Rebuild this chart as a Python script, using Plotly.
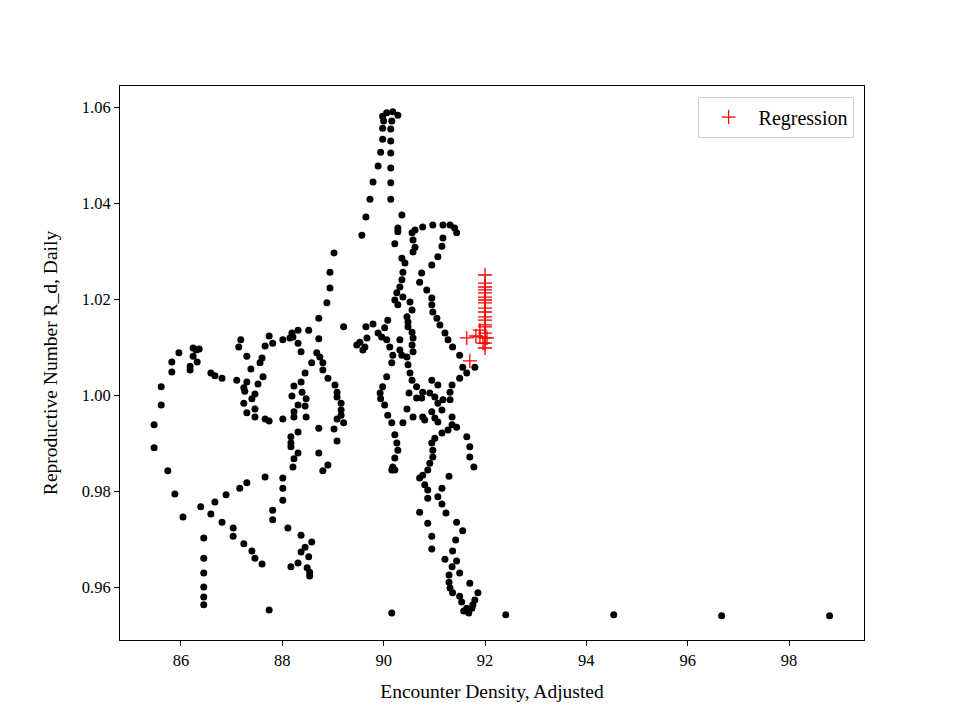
import plotly.graph_objects as go

# ---- observed points (Encounter Density, R_d) ----
left_x = [86.45, 86.45, 86.45, 86.45, 86.45, 86.45, 86.04, 85.88, 85.74, 85.47, 85.47, 85.61, 85.61,
          85.82, 85.82, 85.96, 86.24, 86.30, 86.36, 86.24, 86.18, 86.18, 86.32, 86.59, 86.67, 86.81,
          87.10, 87.30, 87.24, 87.26, 87.38, 87.52, 87.46, 87.40, 87.24, 87.30, 87.46, 87.46, 87.18,
          87.14, 87.30, 87.16, 87.30, 86.39, 86.59, 86.67, 86.89, 86.81, 87.03, 87.03, 87.24, 87.40,
          87.46]
left_y = [0.9702, 0.9660, 0.9629, 0.9600, 0.9579, 0.9563, 0.9746, 0.9794, 0.9842, 0.9890, 0.9938, 0.9979, 1.0017,
          1.0048, 1.0069, 1.0088, 1.0098, 1.0094, 1.0096, 1.0081, 1.0060, 1.0052, 1.0069, 1.0046, 1.0040, 1.0035,
          1.0031, 1.0027, 1.0015, 1.0008, 1.0054, 1.0023, 1.0002, 0.9992, 0.9983, 0.9963, 0.9971, 0.9954, 1.0115,
          1.0100, 1.0081, 0.9806, 0.9817, 0.9767, 0.9752, 0.9777, 0.9792, 0.9735, 0.9723, 0.9706, 0.9690, 0.9675,
          0.9660]

mid_x = [89.57, 89.02, 88.94, 88.94, 88.88, 88.72, 88.52, 88.31, 88.19, 88.01, 87.81, 87.66, 87.74, 88.15,
         88.21, 88.31, 88.72, 88.37, 88.68, 88.74, 89.21, 89.65, 89.79, 89.89, 89.47, 89.53, 89.63, 89.67,
         89.59, 87.60, 87.56, 87.62, 88.58, 88.80, 88.80, 88.45, 88.37, 88.23, 88.39, 88.19, 88.47, 88.31,
         88.45, 88.23, 88.23, 88.47, 87.66, 87.74, 88.01, 88.90, 89.04, 89.08, 89.08, 89.16, 89.16, 89.16,
         89.08, 89.21, 88.72, 89.02, 89.08, 88.31, 88.17, 88.17, 88.17, 88.31, 88.72, 88.23, 88.21, 88.90,
         88.80, 87.66, 88.01, 88.01, 88.01, 87.81, 87.81, 88.11, 88.37, 88.58, 88.45, 88.37, 88.52, 88.31,
         88.17, 88.49, 88.54, 88.54, 87.74, 87.60]
mid_y = [1.0333, 1.0296, 1.0256, 1.0223, 1.0192, 1.0160, 1.0135, 1.0135, 1.0129, 1.0115, 1.0108, 1.0102, 1.0123, 1.0119,
         1.0121, 1.0108, 1.0117, 1.0090, 1.0088, 1.0079, 1.0142, 1.0142, 1.0148, 1.0129, 1.0104, 1.0110, 1.0100, 1.0119,
         1.0094, 1.0077, 1.0067, 1.0038, 1.0067, 1.0067, 1.0052, 1.0046, 1.0027, 1.0019, 1.0006, 0.9998, 0.9992, 0.9979,
         0.9977, 0.9965, 0.9954, 0.9954, 0.9950, 0.9946, 0.9950, 1.0035, 1.0021, 1.0006, 0.9996, 0.9983, 0.9969, 0.9958,
         0.9950, 0.9942, 0.9931, 0.9929, 0.9904, 0.9923, 0.9913, 0.9900, 0.9892, 0.9879, 0.9879, 0.9867, 0.9850, 0.9854,
         0.9842, 0.9829, 0.9827, 0.9806, 0.9781, 0.9760, 0.9740, 0.9723, 0.9708, 0.9694, 0.9683, 0.9673, 0.9663, 0.9650,
         0.9642, 0.9640, 0.9631, 0.9623, 0.9552, 0.9648]

peak_x = [90.06, 90.18, 90.28, 89.98, 90.16, 90.00, 89.98, 90.14, 89.98, 90.14, 89.94, 90.14, 89.89, 90.14,
          89.79, 90.14, 89.73, 90.14, 89.65, 90.36, 90.28, 90.62, 90.77, 90.97, 91.17, 91.31, 91.40, 90.28,
          90.22, 90.56, 90.58, 90.62, 90.58, 91.17, 91.44, 91.15, 91.07, 90.95, 90.75, 90.71, 90.85, 90.95,
          90.95, 90.97, 91.05, 91.11, 91.21, 91.27, 91.36, 91.50, 90.36, 90.42, 90.38, 90.36, 90.32, 90.26,
          90.22, 90.28, 90.38, 90.52, 90.56, 90.46, 90.48, 90.48, 90.56, 90.58, 90.56, 90.58, 90.46, 90.08,
          90.02, 89.96, 90.06, 90.12, 90.18, 90.32, 90.32, 90.36]
peak_y = [1.0588, 1.0590, 1.0583, 1.0581, 1.0571, 1.0571, 1.0556, 1.0554, 1.0533, 1.0529, 1.0506, 1.0504, 1.0477, 1.0473,
          1.0444, 1.0442, 1.0408, 1.0408, 1.0371, 1.0375, 1.0348, 1.0344, 1.0350, 1.0354, 1.0354, 1.0354, 1.0348, 1.0340,
          1.0315, 1.0338, 1.0323, 1.0308, 1.0298, 1.0327, 1.0338, 1.0310, 1.0288, 1.0271, 1.0254, 1.0235, 1.0219, 1.0202,
          1.0188, 1.0173, 1.0160, 1.0146, 1.0129, 1.0115, 1.0100, 1.0083, 1.0285, 1.0275, 1.0256, 1.0240, 1.0225, 1.0213,
          1.0198, 1.0188, 1.0204, 1.0194, 1.0177, 1.0163, 1.0152, 1.0142, 1.0131, 1.0119, 1.0104, 1.0090, 1.0079, 1.0156,
          1.0140, 1.0121, 1.0115, 1.0100, 1.0083, 1.0115, 1.0094, 1.0083]

low_x = [90.16, 90.06, 89.98, 89.93, 89.94, 90.02, 90.08, 90.16, 90.22, 90.26, 90.28, 90.22, 90.18, 90.16,
         90.22, 90.48, 90.52, 90.56, 90.65, 90.77, 90.91, 91.01, 91.07, 91.15, 91.17, 90.50, 90.65, 90.75,
         90.95, 91.07, 91.35, 91.31, 91.31, 90.46, 90.58, 90.38, 90.77, 90.81, 90.95, 91.01, 91.07, 91.35,
         91.35, 91.44, 91.27, 91.15, 91.01, 90.95, 90.97, 90.97, 90.91, 90.87, 90.77, 90.71, 90.81, 91.15,
         91.29, 91.64, 91.70, 91.70, 91.78, 91.50, 91.64, 91.80, 91.56, 90.87, 90.87, 91.07, 91.15, 91.23,
         90.71, 90.87, 91.44, 91.56, 90.95, 91.42, 90.95, 91.36, 91.21, 91.44, 91.35, 91.50, 91.29, 91.29,
         91.70, 91.31, 91.36, 91.50, 91.86, 91.80, 91.54, 91.64, 91.74, 91.76, 91.58, 91.68]
low_y = [1.0067, 1.0038, 1.0017, 1.0004, 0.9992, 0.9979, 0.9958, 0.9942, 0.9917, 0.9900, 0.9885, 0.9869, 0.9850, 0.9844,
         0.9844, 1.0063, 1.0046, 1.0031, 1.0017, 1.0006, 1.0004, 0.9996, 0.9983, 0.9969, 0.9990, 1.0004, 0.9994, 0.9994,
         1.0031, 1.0021, 1.0021, 1.0006, 0.9990, 0.9971, 0.9954, 0.9942, 0.9954, 0.9948, 0.9965, 0.9952, 0.9944, 0.9954,
         0.9938, 0.9933, 0.9927, 0.9921, 0.9910, 0.9900, 0.9885, 0.9871, 0.9858, 0.9844, 0.9833, 0.9827, 0.9813, 0.9806,
         0.9831, 0.9913, 0.9892, 0.9871, 0.9850, 1.0035, 1.0046, 1.0058, 1.0058, 0.9802, 0.9785, 0.9788, 0.9773, 0.9754,
         0.9756, 0.9733, 0.9735, 0.9717, 0.9706, 0.9698, 0.9679, 0.9675, 0.9658, 0.9654, 0.9642, 0.9629, 0.9625, 0.9610,
         0.9608, 0.9598, 0.9588, 0.9581, 0.9588, 0.9573, 0.9569, 0.9556, 0.9556, 0.9563, 0.9550, 0.9546]

tail_x = [90.16, 92.41, 94.54, 96.67, 98.80]
tail_y = [0.9546, 0.9542, 0.9542, 0.9540, 0.9540]

# ---- regression points ----
reg_x = [92.00] * 18 + [91.90, 91.90, 92.04, 91.96, 91.64, 91.82, 91.70]
reg_y = [1.0250, 1.0233, 1.0225, 1.0219, 1.0213, 1.0204, 1.0198, 1.0192, 1.0181, 1.0173, 1.0163, 1.0156,
         1.0146, 1.0142, 1.0129, 1.0119, 1.0108, 1.0098,
         1.0135, 1.0121, 1.0119, 1.0108, 1.0119, 1.0123, 1.0071]

obs_x = left_x + mid_x + peak_x + low_x + tail_x
obs_y = left_y + mid_y + peak_y + low_y + tail_y

x_ticks = [86, 88, 90, 92, 94, 96, 98]
y_ticks = [0.96, 0.98, 1.00, 1.02, 1.04, 1.06]

FONT = "Liberation Serif, Times New Roman, serif"

fig = go.Figure()
fig.add_trace(go.Scatter(
    x=obs_x, y=obs_y, mode="markers", showlegend=False,
    marker=dict(color="black", size=7, line=dict(width=0)),
))
fig.add_trace(go.Scatter(
    x=reg_x, y=reg_y, mode="markers", name="Regression",
    marker=dict(symbol="cross-thin", color="red", size=10,
                line=dict(color="red", width=1.3)),
))

axis_common = dict(
    showgrid=False, zeroline=False, showline=True, linecolor="black", linewidth=1,
    mirror=True, ticks="outside", ticklen=5, tickwidth=1, tickcolor="black",
    tickfont=dict(family=FONT, size=16.5, color="black"),
)

fig.update_layout(
    width=960, height=720,
    paper_bgcolor="white", plot_bgcolor="white",
    margin=dict(l=112, r=104, t=78, b=88),
    font=dict(family=FONT, size=16, color="black"),
    xaxis=dict(range=[84.797, 99.479], tickvals=x_ticks, ticktext=[str(v) for v in x_ticks],
               title=dict(text="Encounter Density, Adjusted", font=dict(family=FONT, size=19.5), standoff=15),
               **axis_common),
    yaxis=dict(range=[0.94896, 1.06438], tickvals=y_ticks, ticktext=[f"{v:.2f}" for v in y_ticks],
               title=dict(text="Reproductive Number R_d, Daily", font=dict(family=FONT, size=19.5), standoff=19),
               **axis_common),
    legend=dict(x=0.986, y=0.981, xanchor="right", yanchor="top",
                bordercolor="#cccccc", borderwidth=1, bgcolor="rgba(255,255,255,0.8)",
                itemwidth=50, tracegroupgap=0,
                font=dict(family=FONT, size=20)),
)

fig.write_html("out.html")
